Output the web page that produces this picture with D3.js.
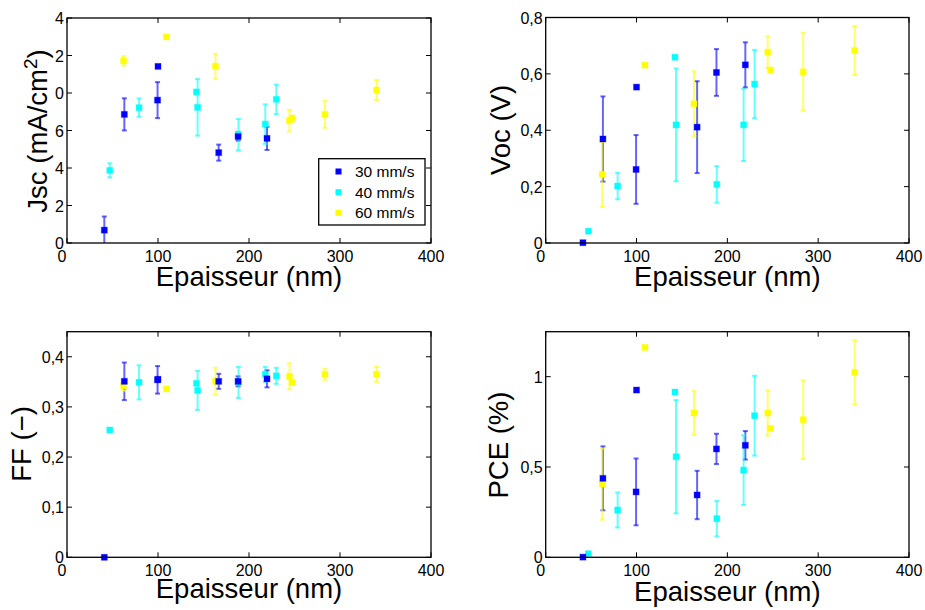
<!DOCTYPE html>
<html><head><meta charset="utf-8">
<script src="https://cdn.jsdelivr.net/npm/d3@7"></script>
<style>body{margin:0;background:#fff}svg{display:block}text{font-family:"Liberation Sans",Arial,sans-serif;fill:#000}</style>
</head><body><svg id="c" width="925" height="610"></svg>
<script>
// thickness (nm) for each deposition speed
const thickness30 = [41, 63, 100, 99.5, 166.7, 188, 219.8];
const thickness40 = [47, 79.2, 142.3, 143.5, 188.4, 217.9, 230];
const thickness60 = [62.2, 109.3, 163.2, 244.4, 247.4, 283.5, 340.2];
const seriesNames = ["30 mm/s", "40 mm/s", "60 mm/s"];
const seriesColors = ["#0000ff", "#00ffff", "#ffff00"];

const jsc30 = [0.343, 3.43, 4.71, 3.81, 2.41, 2.84, 2.79];
const jsc30Err = [0.364, 0.429, 0, 0.48, 0.214, 0.111, 0.309];
const jsc40 = [1.937, 3.609, 4.029, 3.617, 2.889, 3.171, 3.831];
const jsc40Err = [0.189, 0.244, 0, 0.754, 0.416, 0.527, 0.394];
const jsc60 = [4.856, 5.494, 4.714, 3.261, 3.334, 3.433, 4.08];
const jsc60Err = [0.129, 0, 0.33, 0.287, 0, 0.36, 0.266];

const voc30 = [0.001, 0.369, 0.553, 0.261, 0.411, 0.605, 0.632];
const voc30Err = [0, 0.151, 0, 0.122, 0.163, 0.083, 0.08];
const voc40 = [0.042, 0.202, 0.659, 0.419, 0.208, 0.419, 0.564];
const voc40Err = [0, 0.047, 0, 0.2, 0.065, 0.128, 0.121];
const voc60 = [0.243, 0.631, 0.494, 0.677, 0.614, 0.607, 0.683];
const voc60Err = [0.115, 0, 0.115, 0.056, 0, 0.138, 0.087];

const ff30 = [0, 0.351, 0.355, 0.354, 0.351, 0.351, 0.356];
const ff30Err = [0, 0.0375, 0, 0.0275, 0.015, 0.01, 0.017];
const ff40 = [0.254, 0.349, 0.347, 0.333, 0.349, 0.365, 0.362];
const ff40Err = [0, 0.034, 0, 0.039, 0.031, 0.015, 0.016];
const ff60 = [0.342, 0.336, 0.351, 0.361, 0.349, 0.365, 0.365];
const ff60Err = [0.01, 0, 0.027, 0.026, 0, 0.011, 0.015];

const pce30 = [0.001, 0.437, 0.926, 0.362, 0.345, 0.6, 0.62];
const pce30Err = [0, 0.177, 0, 0.185, 0.134, 0.084, 0.079];
const pce40 = [0.02, 0.262, 0.915, 0.557, 0.214, 0.483, 0.784];
const pce40Err = [0, 0.097, 0, 0.314, 0.098, 0.193, 0.221];
const pce60 = [0.406, 1.162, 0.799, 0.799, 0.714, 0.762, 1.024];
const pce60Err = [0.197, 0, 0.121, 0.125, 0, 0.218, 0.177];

const xTicks = [0, 100, 200, 300, 400];
const jscTicks = [0, 1, 2, 3, 4, 5, 6];
const jscTickLabels = ["0", "2", "4", "6", "0", "2", "4"];
const vocTicks = [0, 0.2, 0.4, 0.6, 0.8];
const vocTickLabels = ["0", "0,2", "0,4", "0,6", "0,8"];
const ffTicks = [0, 0.1, 0.2, 0.3, 0.4];
const ffTickLabels = ["0", "0,1", "0,2", "0,3", "0,4"];
const pceTicks = [0, 0.5, 1];
const pceTickLabels = ["0", "0,5", "1"];

const svg = d3.select("#c");

function panel(cfg) {
  const x = d3.scaleLinear().domain([0, 400]).range([cfg.left, cfg.right]);
  const y = d3.scaleLinear().domain(cfg.ydom).range([cfg.bottom, cfg.top]);
  const g = svg.append("g");
  const tl = 5;
  const ax = g.append("g").attr("stroke", "#000").attr("stroke-width", 1);
  xTicks.forEach(t => {
    ax.append("line").attr("x1", x(t)).attr("x2", x(t)).attr("y1", cfg.bottom).attr("y2", cfg.bottom - tl);
    ax.append("line").attr("x1", x(t)).attr("x2", x(t)).attr("y1", cfg.top).attr("y2", cfg.top + tl);
  });
  cfg.yticks.forEach(t => {
    ax.append("line").attr("x1", cfg.left).attr("x2", cfg.left + tl).attr("y1", y(t)).attr("y2", y(t));
    ax.append("line").attr("x1", cfg.right).attr("x2", cfg.right - tl).attr("y1", y(t)).attr("y2", y(t));
  });
  g.append("g").selectAll("text").data(xTicks).join("text")
    .attr("x", (d, i) => x(d) - (i === 0 ? 5 : 0)).attr("y", cfg.bottom + 19)
    .attr("text-anchor", "middle").attr("font-size", 16).text(d => d);
  g.append("g").selectAll("text").data(cfg.yticks).join("text")
    .attr("x", cfg.left - 3).attr("y", d => y(d) + 6)
    .attr("text-anchor", "end").attr("font-size", 16).text((d, i) => cfg.ylabels[i]);
  const series = cfg.series;
  const eb = g.append("g").attr("stroke-width", 2).attr("stroke-opacity", 0.6);
  series.forEach((s, k) => {
    s.x.forEach((xv, i) => {
      const e = s.err[i];
      if (!e) return;
      const cx = x(xv), y1 = y(s.y[i] - e), y2 = y(s.y[i] + e);
      const c = seriesColors[k];
      eb.append("line").attr("x1", cx).attr("x2", cx).attr("y1", Math.min(y1, cfg.bottom)).attr("y2", y2).attr("stroke", c);
      if (y1 <= cfg.bottom) eb.append("line").attr("x1", cx - 2.5).attr("x2", cx + 2.5).attr("y1", y1).attr("y2", y1).attr("stroke", c);
      eb.append("line").attr("x1", cx - 2.5).attr("x2", cx + 2.5).attr("y1", y2).attr("y2", y2).attr("stroke", c);
    });
  });
  [2, 1, 0].forEach(k => {
    const s = series[k];
    g.append("g").selectAll("rect").data(s.x.map((xv, i) => [xv, s.y[i]])).join("rect")
      .attr("x", d => x(d[0]) - 3).attr("y", d => y(d[1]) - 3)
      .attr("width", 6).attr("height", 6)
      .attr("fill", seriesColors[k]).attr("stroke", seriesColors[k])
      .attr("stroke-opacity", 0.35).attr("stroke-width", 1);
  });
  g.append("rect").attr("x", cfg.left).attr("y", cfg.top)
    .attr("width", cfg.right - cfg.left).attr("height", cfg.bottom - cfg.top)
    .attr("fill", "none").attr("stroke", "#000").attr("stroke-width", 1.3);
  g.append("text").attr("x", (cfg.left + cfg.right) / 2).attr("y", cfg.xtitleY)
    .attr("text-anchor", "middle").attr("font-size", 27.5).text("Epaisseur (nm)");
  const yt = g.append("text")
    .attr("transform", `translate(${cfg.ytitleX},${cfg.ytitleCY}) rotate(-90)`)
    .attr("text-anchor", "middle").attr("font-size", 27.5);
  cfg.ytitle(yt);
  return { g, x, y };
}

const p1 = panel({
  left: 67, right: 431, top: 18, bottom: 243, ydom: [0, 6],
  yticks: jscTicks, ylabels: jscTickLabels, xtitleY: 286, ytitleX: 46.5, ytitleCY: 131,
  ytitle: t => { t.append("tspan").text("Jsc (mA/cm"); t.append("tspan").attr("dy", -10).attr("font-size", 19).text("2"); t.append("tspan").attr("dy", 10).text(")"); },
  series: [
    { x: thickness30, y: jsc30, err: jsc30Err },
    { x: thickness40, y: jsc40, err: jsc40Err },
    { x: thickness60, y: jsc60, err: jsc60Err }
  ]
});
const lg = p1.g.append("g");
lg.append("rect").attr("x", 318.7).attr("y", 158.7).attr("width", 106.3).attr("height", 66.3)
  .attr("fill", "#fff").attr("stroke", "#000").attr("stroke-width", 1.3);
seriesNames.forEach((n, i) => {
  const cy = 171.5 + i * 20.7;
  lg.append("rect").attr("x", 335.5).attr("y", cy - 3).attr("width", 6).attr("height", 6).attr("fill", seriesColors[i]);
  lg.append("text").attr("x", 355).attr("y", cy + 5.5).attr("font-size", 15.5).text(n);
});

panel({
  left: 545.7, right: 909, top: 17.5, bottom: 243, ydom: [0, 0.8],
  yticks: vocTicks, ylabels: vocTickLabels, xtitleY: 286, ytitleX: 510, ytitleCY: 130,
  ytitle: t => t.text("Voc (V)"),
  series: [
    { x: thickness30, y: voc30, err: voc30Err },
    { x: thickness40, y: voc40, err: voc40Err },
    { x: thickness60, y: voc60, err: voc60Err }
  ]
});

panel({
  left: 67, right: 431, top: 331.7, bottom: 557.3, ydom: [0, 0.45],
  yticks: ffTicks, ylabels: ffTickLabels, xtitleY: 598, ytitleX: 30.7, ytitleCY: 444,
  ytitle: t => t.text("FF (\u2212)"),
  series: [
    { x: thickness30, y: ff30, err: ff30Err },
    { x: thickness40, y: ff40, err: ff40Err },
    { x: thickness60, y: ff60, err: ff60Err }
  ]
});

panel({
  left: 545.7, right: 909, top: 331.7, bottom: 557.3, ydom: [0, 1.249],
  yticks: pceTicks, ylabels: pceTickLabels, xtitleY: 601, ytitleX: 508, ytitleCY: 445,
  ytitle: t => t.text("PCE (%)"),
  series: [
    { x: thickness30, y: pce30, err: pce30Err },
    { x: thickness40, y: pce40, err: pce40Err },
    { x: thickness60, y: pce60, err: pce60Err }
  ]
});
</script></body></html>
